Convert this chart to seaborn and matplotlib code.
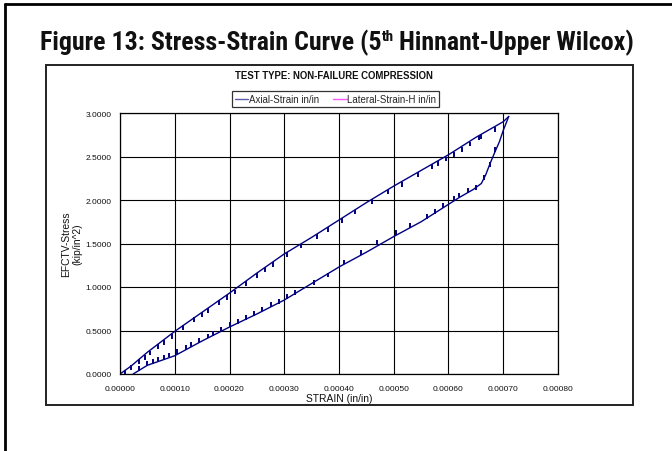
import numpy as np
import pandas as pd
import matplotlib
matplotlib.use("Agg")
import matplotlib.pyplot as plt
from matplotlib.lines import Line2D
from matplotlib.patches import Rectangle
import seaborn as sns

# ---------------- data ----------------
# loading branch (strain in/in, stress kip/in^2)
load_strain = [0.0, 0.00002, 0.00005, 0.00010, 0.00015, 0.00020, 0.00025, 0.00030,
               0.00035, 0.00040, 0.00045, 0.00050, 0.00055, 0.00060, 0.00065,
               0.00070, 0.00071]
load_stress = [0.0, 0.09, 0.25, 0.49, 0.71, 0.93, 1.16, 1.38,
               1.57, 1.77, 1.97, 2.16, 2.34, 2.52, 2.72,
               2.90, 2.96]
# unloading branch
unload_strain = [0.00071, 0.000705, 0.00070, 0.000693, 0.000684, 0.000676, 0.000668,
                 0.00066, 0.000645, 0.00062, 0.00060, 0.00055, 0.00050, 0.00045,
                 0.00040, 0.00035, 0.00030, 0.00025, 0.00020, 0.00015, 0.00010,
                 0.00005, 0.000024]
unload_stress = [2.96, 2.88, 2.80, 2.67, 2.54, 2.42, 2.29,
                 2.19, 2.12, 2.03, 1.95, 1.75, 1.58, 1.40,
                 1.23, 1.04, 0.85, 0.69, 0.54, 0.38, 0.21,
                 0.10, 0.0]
# small measurement jags on the loading branch (hang downward)
load_jag_strain = [1.0e-5, 2.0e-5, 3.5e-5, 4.5e-5, 5.5e-5, 7.0e-5, 8.0e-5, 9.5e-5,
                   11.5e-5, 13.5e-5, 15.0e-5, 16.0e-5, 18.0e-5, 19.5e-5, 21.0e-5,
                   23.0e-5, 25.0e-5, 26.5e-5, 28.0e-5, 30.5e-5, 33.0e-5, 36.0e-5,
                   38.0e-5, 40.5e-5, 43.0e-5, 46.0e-5, 49.0e-5, 51.5e-5, 54.5e-5,
                   57.0e-5, 58.0e-5, 59.5e-5, 61.0e-5, 62.5e-5, 64.0e-5, 65.5e-5,
                   66.0e-5, 68.5e-5]
load_jag_stress = [0.05, 0.10, 0.17, 0.22, 0.27, 0.34, 0.39, 0.46,
                   0.56, 0.65, 0.71, 0.76, 0.85, 0.91, 0.97,
                   1.07, 1.16, 1.23, 1.29, 1.40, 1.50, 1.61,
                   1.69, 1.79, 1.89, 2.01, 2.12, 2.21, 2.32,
                   2.41, 2.45, 2.50, 2.55, 2.61, 2.67, 2.74,
                   2.76, 2.84]
# small measurement jags on the unloading branch (stick upward)
unload_jag_strain = [3.5e-5, 5.0e-5, 6.0e-5, 7.0e-5, 8.0e-5, 9.0e-5, 10.5e-5, 12.0e-5,
                     13.0e-5, 14.5e-5, 16.0e-5, 17.0e-5, 18.5e-5, 20.0e-5, 21.5e-5,
                     23.0e-5, 24.5e-5, 26.0e-5, 27.5e-5, 29.0e-5, 30.5e-5, 32.0e-5,
                     35.5e-5, 38.0e-5, 41.0e-5, 44.0e-5, 47.0e-5, 50.5e-5, 53.0e-5,
                     56.0e-5, 57.5e-5, 59.0e-5, 61.0e-5, 62.0e-5, 63.5e-5, 65.0e-5,
                     66.5e-5, 67.5e-5, 68.5e-5]
unload_jag_stress = [0.04, 0.10, 0.12, 0.145, 0.165, 0.19, 0.23, 0.28,
                     0.31, 0.36, 0.41, 0.44, 0.49, 0.54, 0.58,
                     0.62, 0.67, 0.72, 0.77, 0.81, 0.86, 0.91,
                     1.02, 1.11, 1.26, 1.37, 1.48, 1.60, 1.68,
                     1.78, 1.84, 1.91, 1.99, 2.03, 2.08, 2.12,
                     2.23, 2.38, 2.55]
jag_len = 0.055

x_ticks = [0.0, 0.0001, 0.0002, 0.0003, 0.0004, 0.0005, 0.0006, 0.0007, 0.0008]
y_ticks = [0.0, 0.5, 1.0, 1.5, 2.0, 2.5, 3.0]

series_names = ["Axial-Strain in/in", "Lateral-Strain-H in/in"]
title_parts = ["Figure 13: Stress-Strain Curve (5", "th", "Hinnant-Upper Wilcox)"]

# ---------------- figure ----------------
sns.set_theme(style="white")
plt.rcParams['font.family'] = ['Liberation Sans', 'DejaVu Sans']

W, H = 672, 452
fig = plt.figure(figsize=(W / 100, H / 100), dpi=100)
fig.patch.set_facecolor("white")

def fx(px):
    return px / W

def fy(py):
    return 1 - py / H

# outer frame (top and left edges visible)
fig.add_artist(Line2D([fx(5), fx(5)], [fy(5), 0], transform=fig.transFigure,
                      color="black", lw=2.0))
fig.add_artist(Line2D([fx(5), 1.0], [fy(5), fy(5)], transform=fig.transFigure,
                      color="black", lw=2.0))

# chart box
fig.add_artist(Rectangle((fx(46), fy(406)), fx(633) - fx(46), fy(66) - fy(406),
                         transform=fig.transFigure, fill=False,
                         edgecolor="#222222", lw=1.4))

# main title with superscript, pieces placed after measuring
tfam = ['Roboto Condensed', 'Liberation Sans', 'DejaVu Sans']
renderer = fig.canvas.get_renderer()
t1 = fig.text(fx(40), fy(50), title_parts[0], family=tfam, weight="bold",
              fontsize=18.6, ha="left", va="baseline", color="#111111")
bb1 = t1.get_window_extent(renderer)
t2 = fig.text(bb1.x1 / W + fx(0.5), fy(41), title_parts[1], family=tfam, weight="bold",
              fontsize=11, ha="left", va="baseline", color="#111111")
bb2 = t2.get_window_extent(renderer)
t3 = fig.text(bb2.x1 / W + fx(5), fy(50), title_parts[2], family=tfam, weight="bold",
              fontsize=18.6, ha="left", va="baseline", color="#111111")

# axes
ax = fig.add_axes([fx(120), fy(375), fx(558) - fx(120), fy(114) - fy(375)])
ax.set_facecolor("white")

df_load = pd.DataFrame({"strain": load_strain, "stress": load_stress})
df_unload = pd.DataFrame({"strain": unload_strain, "stress": unload_stress})
navy = "#000080"
sns.lineplot(data=df_load, x="strain", y="stress", sort=False, estimator=None,
             color=navy, lw=1.0, ax=ax, legend=False)
sns.lineplot(data=df_unload, x="strain", y="stress", sort=False, estimator=None,
             color=navy, lw=1.0, ax=ax, legend=False)
ax.vlines(load_jag_strain, np.array(load_jag_stress) - jag_len, load_jag_stress,
          color=navy, lw=1.4)
ax.vlines(unload_jag_strain, unload_jag_stress, np.array(unload_jag_stress) + jag_len,
          color=navy, lw=1.4)

ax.set_xlim(0, 0.0008)
ax.set_ylim(0, 3.0)
ax.set_xticks(x_ticks)
ax.set_yticks(y_ticks)
ax.set_xticklabels([f"{v:.5f}" for v in x_ticks], fontsize=6.0)
ax.set_yticklabels([f"{v:.4f}" for v in y_ticks], fontsize=6.0)
ax.grid(True, color="black", lw=0.8)
for s in ax.spines.values():
    s.set_color("black")
    s.set_linewidth(0.9)
ax.tick_params(axis="x", direction="out", length=3, width=0.8, color="black", pad=5)
ax.tick_params(axis="y", direction="out", length=5, width=0.8, color="black", pad=1)
ax.tick_params(labelcolor="#111111")

ax.set_xlabel("STRAIN (in/in)", fontsize=7.4, color="#111111")
ax.xaxis.set_label_coords(0.5, -0.072)
ax.set_ylabel("EFCTV-Stress\n(kip/in^2)", fontsize=7.4, color="#111111",
              linespacing=1.1)
ax.yaxis.set_label_coords(-0.086, 0.5)

# chart subtitle
fig.text(fx(334), fy(76), "TEST TYPE: NON-FAILURE COMPRESSION", fontsize=6.9,
         weight="bold", ha="center", va="center", color="#111111")

# legend
handles = [Line2D([], [], color="#5a5aa8", lw=1.0),
           Line2D([], [], color="#ff55ff", lw=1.0)]
leg = ax.legend(handles, series_names, loc="center",
                bbox_to_anchor=(fx(335.5), fy(100)), bbox_transform=fig.transFigure,
                ncol=2, fontsize=7.0, frameon=True, fancybox=False,
                edgecolor="black", handlelength=1.4, handletextpad=0.05,
                columnspacing=1.5, borderpad=0.3, borderaxespad=0)
leg.get_frame().set_linewidth(0.9)

fig.savefig("out.png", dpi=100)
